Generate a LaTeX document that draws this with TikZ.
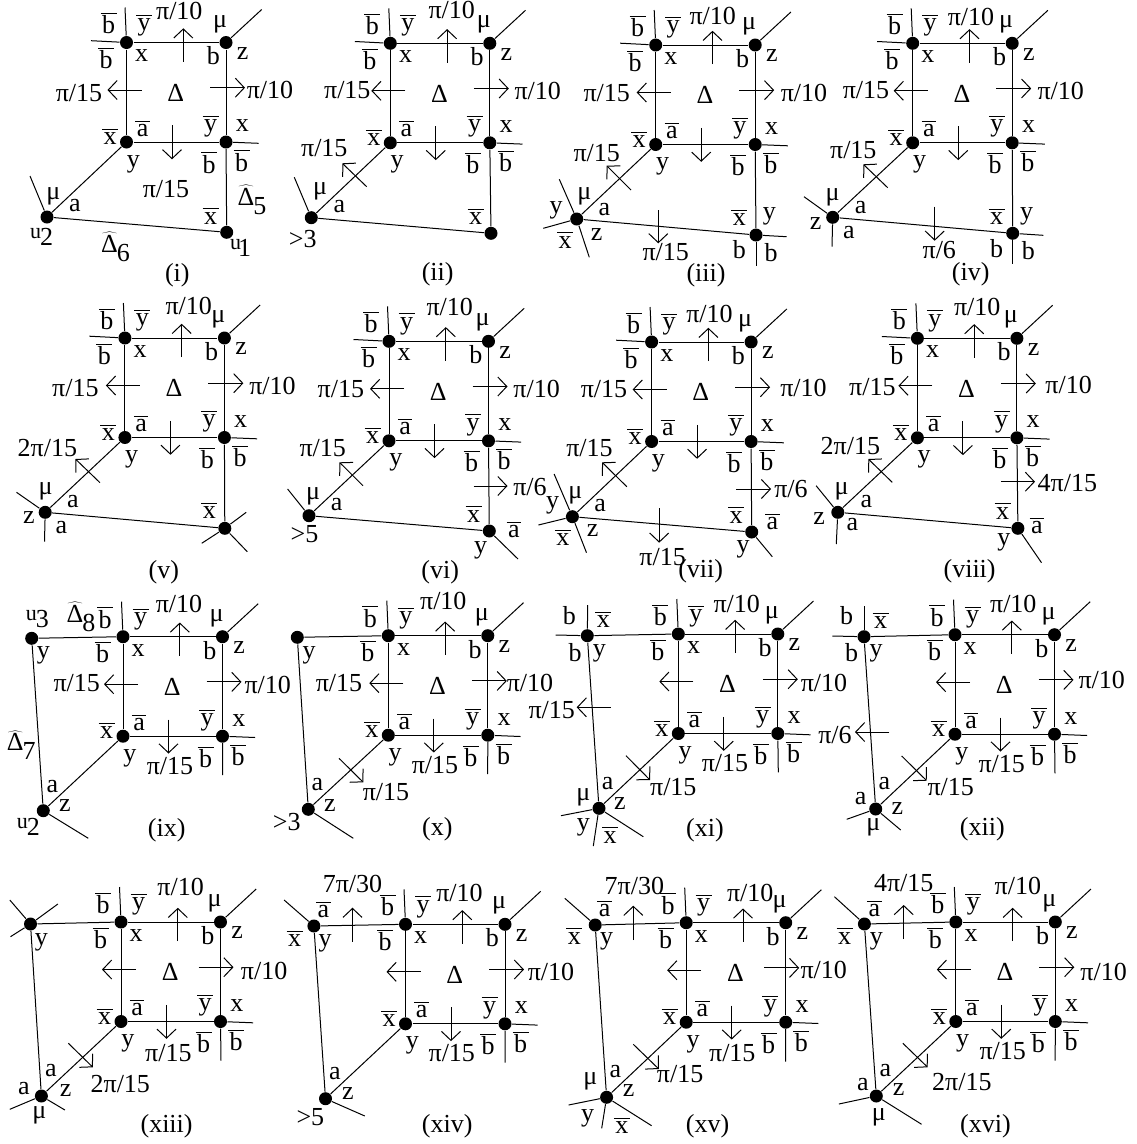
\documentclass[tikz,border=0pt]{standalone}
\usepackage{fontspec}
\setmainfont{Liberation Serif}
\usetikzlibrary{arrows.meta}
\newcounter{labn}
\newcommand{\ol}[2][14]{$\overline{\mbox{\rule{0pt}{#1pt}\kern1.5pt#2\kern1.5pt}}$}
\newcommand{\olb}{\ol[19]{b}}
\newcommand{\dhat}[1]{$\widehat{\mbox{Δ}}$\kern-1pt\raisebox{-9pt}{#1}}
\newcommand{\ulab}[2]{\raisebox{7pt}{\fontsize{22}{22}\selectfont u}\kern#2pt #1}
\tikzset{
  >={Straight Barb[length=9pt,width=19pt]},
  dot/.style={circle,fill,minimum size=13pt,inner sep=0pt},
  lbl/.style={inner sep=0pt,font=\fontsize{26}{29}\selectfont},
  flux/.style={->},
  every picture/.style={line width=1pt},
}
% a text, a line from a node to a free end, a small flow arrow
\newcommand{\lab}[2]{\stepcounter{labn}\node[lbl] (lab\thelabn) at (#1) {#2};}
\newcommand{\stub}[2]{\stepcounter{labn}\coordinate (end\thelabn) at (#2); \draw (#1)--(end\thelabn);}
\newcommand{\flow}[2]{\stepcounter{labn}\coordinate (fa\thelabn) at (#1); \coordinate (fb\thelabn) at (#2); \draw[flux] (fa\thelabn)--(fb\thelabn);}
\newcommand{\tlw}[1]{\path (#1-tl) ++(-35.5,-1.8) coordinate (#1-w); \draw (#1-tl)--(#1-w);}
% the square that all the panels share
\newcommand{\coresq}[3][0]{
\begin{scope}[shift={(#3)}]
\node[dot] (#2-tl) at (0,0){}; \node[dot] (#2-tr) at (99.5,0){};
\node[dot] (#2-bl) at (0,99.5){}; \node[dot] (#2-br) at (99.5,99.5){};
\draw (#2-tl)--(#2-tr); \draw (#2-tl)--(#2-bl); \draw (#2-tr)--(#2-br); \draw (#2-bl)--(#2-br);
\stub{#2-tl}{-1.5,-35} \stub{#2-tr}{135.2,-33} \stub{#2-br}{132.2,100.8}
\flow{56.8,19.2}{56.8,-14.2} \flow{15,47.5}{-19,47.5}
\flow{83.5+#1,45.2}{118.5+#1,45.2} \flow{45.5,82.8}{45.5,116.8}
\lab{-18,-19}{\olb} \lab{17.5,-17.5}{\ol{y}} \lab{93.5,-18.5}{μ}
\lab{-20.5,15.8}{\olb} \lab{15.2,13.5}{x} \lab{86.8,13.5}{b} \lab{116.2,10.8}{z}
\lab{49.2,50.2}{Δ}
\lab{-16.5,94.2}{\ol{x}} \lab{16.2,85.8}{\ol{a}} \lab{84.2,83.5}{\ol{y}} \lab{115.8,83.5}{x}
\lab{6.8,121.5}{y} \lab{82.5,120.2}{\olb} \lab{115.2,118.2}{\olb}
\end{scope}
}

\begin{document}
\begin{tikzpicture}[x=1pt,y=-1pt]
\useasboundingbox (0,0) rectangle (1137,1144);
% (i)
\coresq{i}{126.5,42.5} \tlw{i}
\node[dot] (i-a) at (47,217){}; \node[dot] (i-d) at (226.7,232.3){};
\draw (i-bl)--(i-a); \draw (i-a)--(i-d); \draw (i-br)--(i-d); \stub{i-a}{30,176}
\lab{179.3,11}{π/10} \lab{79,93.3}{π/15} \lab{270,90}{π/10} \lab{166,189.3}{π/15}
\lab{53.3,196.7}{μ} \lab{75,206}{a} \lab{41.7,236.7}{\ulab{2}{-1}} \lab{210.7,216}{\ol{x}}
\lab{240.7,248.3}{\ulab{1}{-3}} \lab{252,200}{\dhat{5}} \lab{115.5,246.5}{\dhat{6}} \lab{177.3,275}{(i)}
% (ii)
\coresq{ii}{390.3,43.3} \tlw{ii}
\node[dot] (ii-a) at (311.3,217.7){}; \node[dot] (ii-d) at (491,233.3){};
\draw (ii-bl)--(ii-a); \draw (ii-a)--(ii-d); \draw (ii-br)--(ii-d); \stub{ii-a}{294.3,177.3}
\flow{366.7,186.7}{342.3,163.3}
\lab{451.7,10}{π/10} \lab{347.3,90}{π/15} \lab{537.7,90.7}{π/10} \lab{324.3,147.7}{π/15}
\lab{320,191.7}{μ} \lab{339.3,206.7}{a} \lab{302.7,239.3}{>3} \lab{475.7,216.7}{\ol{x}} \lab{437.7,274}{(ii)}
% (iii)
\coresq{iii}{655.7,45} \tlw{iii}
\node[dot] (iii-a) at (576.7,219){}; \node[dot] (iii-d) at (756,235){};
\draw (iii-bl)--(iii-a); \draw (iii-a)--(iii-d); \draw (iii-br)--(iii-d);
\stub{iii-a}{559.3,179.3} \stub{iii-a}{589.3,257.3} \stub{iii-a}{543.3,228.3}
\stub{iii-d}{786.7,236.7} \stub{iii-d}{756,265.7}
\flow{631,190}{606.7,165.7} \flow{658.3,210}{658.3,243.3}
\lab{712.7,16}{π/10} \lab{606.7,93.3}{π/15} \lab{804,92.7}{π/10} \lab{596.7,152.7}{π/15}
\lab{584.3,196.7}{μ} \lab{604.3,210}{a} \lab{556,210}{y} \lab{565,240}{\ol{x}} \lab{596.7,235}{z}
\lab{739.3,217.3}{\ol{x}} \lab{769.3,216.7}{y} \lab{739.3,250}{b} \lab{771,252.7}{b}
\lab{665.7,252.3}{π/15} \lab{706,275}{(iii)}
% (iv)
\coresq{iv}{912.7,43.3} \tlw{iv}
\node[dot] (iv-a) at (832.7,217.3){}; \node[dot] (iv-d) at (1012.7,233.3){};
\draw (iv-bl)--(iv-a); \draw (iv-a)--(iv-d); \draw (iv-br)--(iv-d);
\stub{iv-a}{804,196.7} \stub{iv-a}{832,246.7} \stub{iv-d}{1043.3,235.3} \stub{iv-d}{1012.7,264}
\flow{887.7,187.7}{863.3,164.3} \flow{934.7,206.7}{934.7,240.7}
\lab{971,16.7}{π/10} \lab{866,90}{π/15} \lab{1060.7,91}{π/10} \lab{853.3,150}{π/15}
\lab{832.7,197.3}{μ} \lab{860.7,207.3}{a} \lab{815.7,223.3}{z} \lab{849,232.7}{a}
\lab{996.7,216.7}{\ol{x}} \lab{1026.7,216}{y} \lab{996.7,248.3}{b} \lab{1028.3,250.7}{b}
\lab{939.3,250}{π/6} \lab{970.7,274}{(iv)}
% (v)
\coresq{v}{124.9,338} \tlw{v}
\node[dot] (v-a) at (45.2,512.3){}; \node[dot] (v-d) at (224.8,528.3){};
\draw (v-bl)--(v-a); \draw (v-a)--(v-d); \draw (v-br)--(v-d);
\stub{v-a}{16.5,492.3} \stub{v-a}{44.5,541.7} \stub{v-d}{246.2,512.3} \stub{v-d}{201.7,543.3} \stub{v-d}{247.3,551.7}
\flow{100,482.7}{75.4,459}
\lab{188.7,306}{π/10} \lab{75.4,387.7}{π/15} \lab{272.5,385.7}{π/10} \lab{47.4,447.7}{2π/15}
\lab{45.6,491.7}{μ} \lab{73,501.7}{a} \lab{28.8,517.3}{z} \lab{61.4,527.7}{a}
\lab{209.4,510.7}{\ol{x}} \lab{163.8,572.7}{(v)}
% (vi)
\coresq{vi}{389,341.3} \tlw{vi}
\node[dot] (vi-a) at (309,515.7){}; \node[dot] (vi-d) at (489.3,531){};
\draw (vi-bl)--(vi-a); \draw (vi-a)--(vi-d); \draw (vi-br)--(vi-d);
\stub{vi-a}{287.6,489} \stub{vi-d}{518,559}
\flow{363,485.7}{339.5,462.3} \flow{473.5,486}{507.5,486}
\lab{449.7,306.7}{π/10} \lab{340.9,389}{π/15} \lab{536.6,389}{π/10} \lab{322.7,447.7}{π/15}
\lab{313.2,496}{μ} \lab{336.7,505}{a} \lab{304.5,534.3}{>5} \lab{530,486.7}{π/6}
\lab{473.5,514}{\ol{x}} \lab{513.9,529.3}{\ol{a}} \lab{480.5,550}{y} \lab{440.2,572.7}{(vi)}
% (vii)
\coresq{vii}{651.6,342} \tlw{vii}
\node[dot] (vii-a) at (572.4,516.7){}; \node[dot] (vii-d) at (751.7,532){};
\draw (vii-bl)--(vii-a); \draw (vii-a)--(vii-d); \draw (vii-br)--(vii-d);
\stub{vii-a}{554.1,474} \stub{vii-a}{586.5,552.7} \stub{vii-a}{538.4,525} \stub{vii-d}{772.3,556.7}
\flow{626.8,486.7}{602.1,462.3} \flow{659.2,508.3}{659.2,542.7} \flow{736.1,489}{771.1,489}
\lab{709.5,314.3}{π/10} \lab{604,389}{π/15} \lab{803.5,388.3}{π/10} \lab{589.5,447.7}{π/15}
\lab{552.6,505}{y} \lab{575.4,495}{μ} \lab{600.2,506}{a} \lab{562.8,537.3}{\ol{x}} \lab{592.6,530.7}{z}
\lab{662.6,556.7}{π/15} \lab{791,489.3}{π/6} \lab{736.1,515}{\ol{x}} \lab{772.3,521.7}{\ol{a}}
\lab{743,549.3}{y} \lab{700.7,571.7}{(vii)}
% (viii)
\coresq{viii}{917.4,338.3} \tlw{viii}
\node[dot] (viii-a) at (837.8,512.3){}; \node[dot] (viii-d) at (1017.9,528.3){};
\draw (viii-bl)--(viii-a); \draw (viii-a)--(viii-d); \draw (viii-br)--(viii-d);
\stub{viii-a}{816.1,485.7} \stub{viii-a}{836.3,544} \stub{viii-d}{1041.5,562.7}
\flow{892.2,482.3}{868.3,459} \flow{1000.8,481.7}{1035,481.7}
\lab{977.2,307.3}{π/10} \lab{872.4,386.7}{π/15} \lab{1068.6,385}{π/10} \lab{850.4,446}{2π/15}
\lab{841.6,491}{μ} \lab{866.3,501.7}{a} \lab{819.1,518.3}{z} \lab{852.3,525}{a}
\lab{1067.4,482.7}{4π/15} \lab{1002.7,511}{\ol{x}} \lab{1037,526}{\ol{a}} \lab{1003.8,542.3}{y} \lab{969.6,571.7}{(viii)}
% (ix)
\coresq{ix}{123,636.7}
\node[dot] (ix-c) at (31.7,638.3){}; \node[dot] (ix-e) at (43.3,810.7){};
\draw (ix-tl)--(ix-c); \draw (ix-c)--(ix-e); \draw (ix-bl)--(ix-e);
\stub{ix-e}{88.3,838.3} \stub{ix-br}{222.7,775}
\lab{179,604}{π/10} \lab{76.7,682.7}{π/15} \lab{267.7,685}{π/10} \lab{170,765.7}{π/15}
\lab{37.3,619.3}{\ulab{3}{-1}} \lab{81,616.7}{\dhat{8}} \lab{43.3,655.7}{y} \lab{21.3,745.3}{\dhat{7}}
\lab{52.3,786.7}{a} \lab{65,805.7}{z} \lab{28.3,826.7}{\ulab{2}{-1}} \lab{166.7,830}{(ix)}
% (x)
\coresq{x}{388.3,635.7}
\node[dot] (x-c) at (297.3,637.3){}; \node[dot] (x-e) at (308.3,809.3){};
\draw (x-tl)--(x-c); \draw (x-c)--(x-e); \draw (x-bl)--(x-e);
\stub{x-e}{353.3,838.3} \stub{x-br}{487.7,774} \flow{339,758.3}{363.3,782.3}
\lab{443.3,600.7}{π/10} \lab{339,682.7}{π/15} \lab{530,683.3}{π/10} \lab{435,765}{π/15}
\lab{309,655}{y} \lab{317.3,785}{a} \lab{330,805.7}{z} \lab{286.7,821.7}{>3}
\lab{386,791.7}{π/15} \lab{437.3,829.3}{(x)}
% (xi)
\coresq[1]{xi}{678.3,634}
\node[dot] (xi-c) at (587.3,635.7){}; \node[dot] (xi-e) at (599,808.3){};
\draw (xi-tl)--(xi-c); \draw (xi-c)--(xi-e); \draw (xi-bl)--(xi-e);
\stub{xi-c}{587.7,605} \stub{xi-c}{555.7,635} \stub{xi-e}{561,815.7} \stub{xi-e}{593.3,846} \stub{xi-e}{643.3,836.7}
\stub{xi-br}{778.3,772.3} \flow{610.7,707.3}{576.7,707.3} \flow{626,755.7}{650,780}
\lab{736.7,604}{π/10} \lab{824,682.7}{π/10} \lab{551.7,710}{π/15} \lab{725,763.3}{π/15}
\lab{569.3,616}{b} \lab{603.3,619.3}{\ol{x}} \lab{575,652.3}{b} \lab{599.3,653.3}{y}
\lab{607.7,783.3}{a} \lab{583.3,797.3}{μ} \lab{620,803.3}{z} \lab{583.3,827.3}{y} \lab{610,835}{\ol{x}}
\lab{673.3,786.7}{π/15} \lab{705,830.7}{(xi)}
% (xii)
\coresq{xii}{955,634.7}
\node[dot] (xii-c) at (864,636.7){}; \node[dot] (xii-e) at (875.7,809){};
\draw (xii-tl)--(xii-c); \draw (xii-c)--(xii-e); \draw (xii-bl)--(xii-e);
\stub{xii-c}{864,605.7} \stub{xii-c}{832.3,636} \stub{xii-e}{846.7,819.3} \stub{xii-e}{900.7,830}
\stub{xii-br}{1055,773.3} \flow{889.3,732}{855,732} \flow{901.7,756}{926.7,780.7}
\lab{1013.3,604}{π/10} \lab{1101.7,680}{π/10} \lab{835,735}{π/6} \lab{1001.7,764}{π/15}
\lab{846.7,616}{b} \lab{880.7,620.7}{\ol{x}} \lab{851.7,652.7}{b} \lab{876,653.3}{y}
\lab{884.3,784}{a} \lab{860.7,799}{a} \lab{897.3,809}{z} \lab{873.3,827.3}{μ}
\lab{950.7,786.7}{π/15} \lab{982.3,829.3}{(xii)}
% (xiii)
\coresq[-6]{xiii}{121,922}
\node[dot] (xiii-c) at (30.5,924){}; \node[dot] (xiii-e) at (41.4,1096){};
\draw (xiii-tl)--(xiii-c); \draw (xiii-c)--(xiii-e); \draw (xiii-bl)--(xiii-e);
\stub{xiii-c}{9.8,900} \stub{xiii-c}{57.9,904} \stub{xiii-c}{10.5,936.7}
\stub{xiii-e}{9.8,1109.3} \stub{xiii-e}{64.9,1110} \stub{xiii-br}{221,1060.7}
\flow{68.4,1043.3}{92.9,1067.3}
\lab{180.6,887.3}{π/10} \lab{264.1,970.7}{π/10} \lab{168.4,1052.7}{π/15}
\lab{41.4,942.3}{y} \lab{50.9,1070.7}{a} \lab{23.9,1088.3}{a} \lab{65.6,1090.7}{z} \lab{39.3,1115}{μ}
\lab{120.3,1084}{2π/15} \lab{166.6,1126.7}{(xiii)}
% (xiv)
\coresq{xiv}{405.5,924.3}
\node[dot] (xiv-c) at (313.9,926){}; \node[dot] (xiv-e) at (325.5,1098.7){};
\draw (xiv-tl)--(xiv-c); \draw (xiv-c)--(xiv-e); \draw (xiv-bl)--(xiv-e);
\stub{xiv-c}{284.1,900} \stub{xiv-e}{364.8,1116} \stub{xiv-br}{505.1,1062.7}
\flow{352.5,941.7}{352.5,907.7}
\lab{459.5,893.3}{π/10} \lab{551,972}{π/10} \lab{451.8,1052.7}{π/15} \lab{352.5,884}{7π/30}
\lab{323.4,909.3}{\ol{a}} \lab{294.6,938.3}{\ol{x}} \lab{325.2,943.3}{y}
\lab{335,1074}{a} \lab{347.9,1093.3}{z} \lab{310.4,1116.7}{>5} \lab{447.2,1126.7}{(xiv)}
% (xv)
\coresq[-5.5]{xv}{686.2,922.7}
\node[dot] (xv-c) at (595.2,925){}; \node[dot] (xv-e) at (606.6,1097.3){};
\draw (xv-tl)--(xv-c); \draw (xv-c)--(xv-e); \draw (xv-bl)--(xv-e);
\stub{xv-c}{564.8,898.3} \stub{xv-e}{568.6,1105} \stub{xv-e}{601.7,1128.3} \stub{xv-e}{651.6,1125.7}
\stub{xv-br}{785.6,1061.7} \flow{633.3,940}{633.3,905.7} \flow{633.3,1044.3}{658.8,1069}
\lab{750.2,893.3}{π/10} \lab{823.7,970}{π/10} \lab{732.3,1052.7}{π/15} \lab{634.4,886}{7π/30}
\lab{604.7,909}{\ol{a}} \lab{574.3,936}{\ol{x}} \lab{606.6,941.7}{y}
\lab{615.4,1071.7}{a} \lab{590.3,1081.7}{μ} \lab{628.7,1090.7}{z} \lab{587.6,1118.3}{y} \lab{621.9,1125.7}{\ol{x}}
\lab{680.1,1074}{π/15} \lab{707.6,1126.7}{(xv)}
% (xvi)
\coresq{xvi}{955.8,922}
\node[dot] (xvi-c) at (864.4,924){}; \node[dot] (xvi-e) at (876.3,1096){};
\draw (xvi-tl)--(xvi-c); \draw (xvi-c)--(xvi-e); \draw (xvi-bl)--(xvi-e);
\stub{xvi-c}{834.4,896.7} \stub{xvi-e}{838.9,1104} \stub{xvi-e}{921.6,1124.3} \stub{xvi-br}{1055.2,1060.7}
\flow{903.7,939}{903.7,905} \flow{902.9,1043.3}{927.7,1067.3}
\lab{1017.9,886}{π/10} \lab{1103.6,971.7}{π/10} \lab{1002.7,1051}{π/15} \lab{903.7,883.3}{4π/15}
\lab{874.3,909}{\ol{a}} \lab{844.6,936}{\ol{x}} \lab{876.3,941.7}{y}
\lab{885.4,1070.7}{a} \lab{862.9,1085}{a} \lab{898.7,1089.3}{z} \lab{878.9,1117.3}{μ}
\lab{961.9,1081.7}{2π/15} \lab{985.5,1126.7}{(xvi)}
\end{tikzpicture}
\end{document}
